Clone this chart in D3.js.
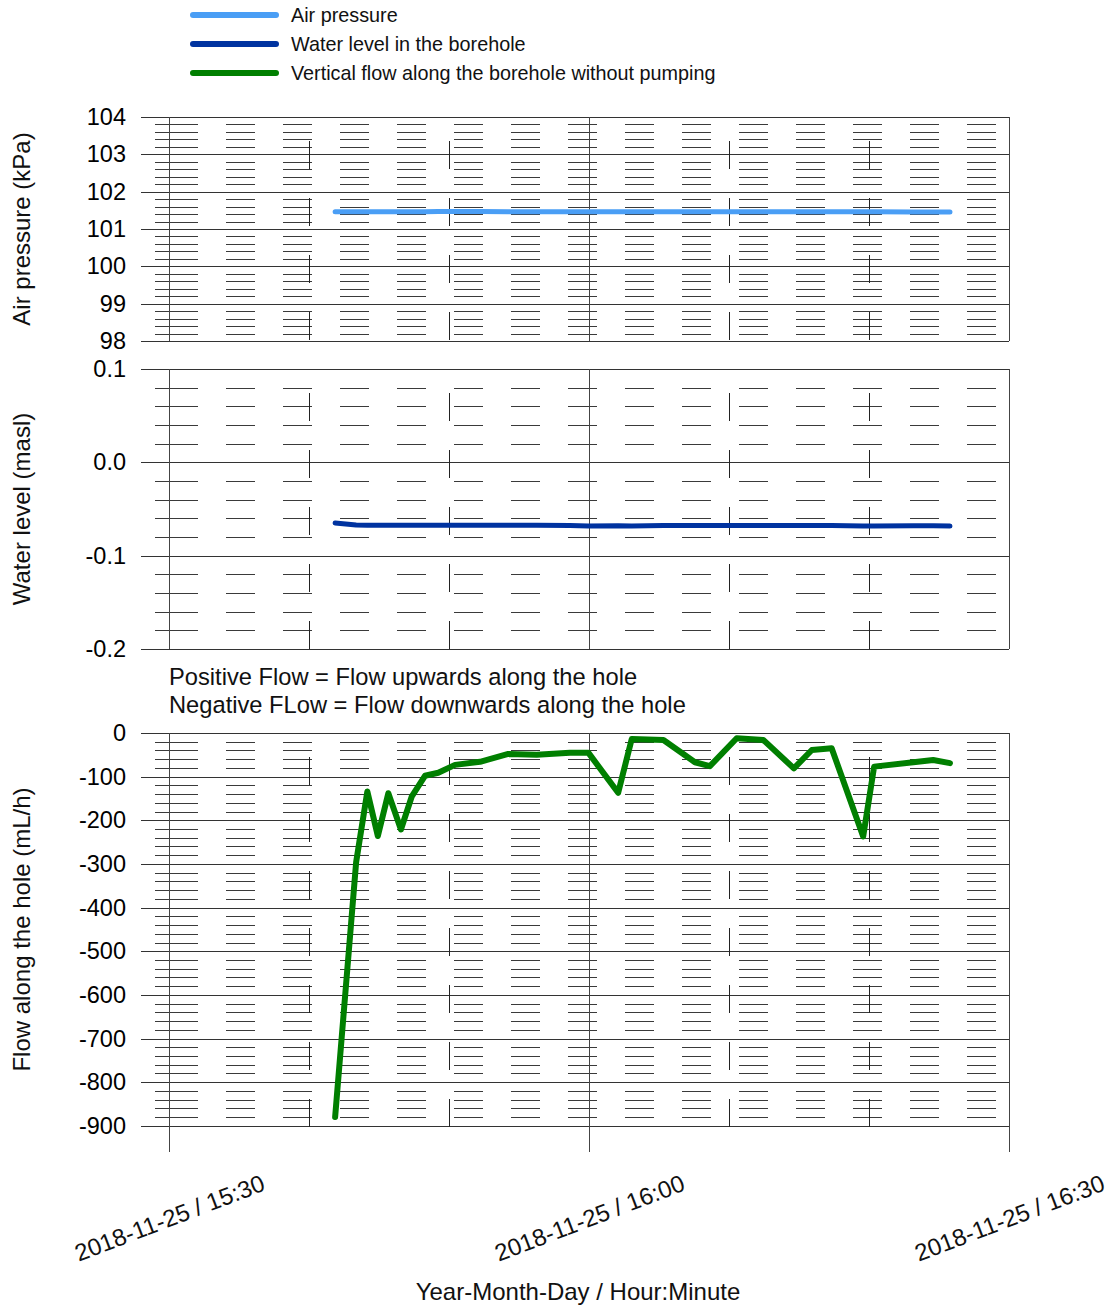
<!DOCTYPE html>
<html>
<head>
<meta charset="utf-8">
<script src="https://cdn.jsdelivr.net/npm/d3@7"></script>
<style>
  body { margin: 0; background: #fff; }
  svg { display: block; font-family: "Liberation Sans", Arial, sans-serif; }
</style>
</head>
<body>
<svg id="chart" width="1113" height="1309"></svg>
<script>
// datos (hora de la medicion)
var times = ["15:41:52","15:43:22","15:44:10","15:44:55","15:45:40","15:46:34","15:47:20","15:48:17",
  "15:49:14","15:50:26","15:52:13","15:54:14","15:56:16","15:58:38","15:59:57","16:02:05","16:03:03",
  "16:05:19","16:07:34","16:08:38","16:10:33","16:12:27","16:14:38","16:15:55","16:17:20","16:19:35",
  "16:20:22","16:23:10","16:24:35","16:25:47"];
var airPressure = [101.46,101.46,101.46,101.46,101.46,101.46,101.46,101.46,101.47,101.47,101.47,101.46,
  101.46,101.46,101.46,101.46,101.46,101.46,101.46,101.46,101.46,101.46,101.46,101.46,101.46,101.46,
  101.46,101.455,101.455,101.455];
var waterLevel = [-0.065,-0.0672,-0.0674,-0.0675,-0.0675,-0.0675,-0.0675,-0.0675,-0.0675,-0.0675,-0.0675,
  -0.0675,-0.0675,-0.0676,-0.0682,-0.0680,-0.0683,-0.0677,-0.0676,-0.0676,-0.0676,-0.0676,-0.0676,-0.0677,
  -0.0678,-0.0683,-0.0682,-0.0680,-0.0679,-0.0683];
var flow = [-880,-296,-134,-236,-138,-221,-146,-98,-91,-73,-66,-48,-50,-45,-45,-137,-14,-16,-67,-76,
  -12,-16,-81,-39,-35,-237,-77,-67,-62,-69];

var legendLabels = ["Air pressure","Water level in the borehole","Vertical flow along the borehole without pumping"];
var seriesColors = ["#4a9ef5","#0033a0","#007f00"];
var pressureTicks = [98,99,100,101,102,103,104];
var levelTicks = [-0.2,-0.1,0.0,0.1];
var flowTicks = [0,-100,-200,-300,-400,-500,-600,-700,-800,-900];
var xTickLabels = ["15:30","16:00","16:30"];
var xMinorTimes = ["15:40","15:50","16:10","16:20"];
var fecha = "2018-11-25";

var parse = d3.timeParse("%Y-%m-%d %H:%M:%S");
var pt = function(h){ return parse(fecha + " " + (h.length == 5 ? h + ":00" : h)); };

var svg = d3.select("#chart");
var left = 141, right = 1009;

var x = d3.scaleTime()
  .domain([pt("15:28"), pt("16:30")])
  .range([left, right]);

var paneles = [
  { top: 117, bottom: 341, gridBottom: 341, y: d3.scaleLinear().domain([98,104]).range([341,117]),
    ticks: pressureTicks, minorStep: 0.2, fmt: function(d){ return String(d); },
    title: "Air pressure (kPa)", values: airPressure, color: seriesColors[0], width: 5 },
  { top: 369, bottom: 649, gridBottom: 649, y: d3.scaleLinear().domain([-0.2,0.1]).range([649,369]),
    ticks: levelTicks, minorStep: 0.02, fmt: function(d){ return d.toFixed(1); },
    title: "Water level (masl)", values: waterLevel, color: seriesColors[1], width: 5 },
  { top: 733, bottom: 1126, gridBottom: 1152, y: d3.scaleLinear().domain([-960,0]).range([1152,733]),
    ticks: flowTicks, minorStep: 20, fmt: function(d){ return String(d); },
    title: "Flow along the hole (mL/h)", values: flow, color: seriesColors[2], width: 6 }
];

var x0 = x(pt("15:30"));
var periodo = 57, guion = 29;

paneles.forEach(function(p){
  var g = svg.append("g");
  var grid = g.append("g").attr("shape-rendering","crispEdges");

  // lineas menores horizontales (cortas)
  var lo = d3.min(p.ticks), hi = d3.max(p.ticks);
  var n = Math.round((hi - lo) / p.minorStep);
  var minors = d3.range(n + 1).map(function(i){ return lo + i * p.minorStep; })
    .filter(function(v, i){ return i % 5 != 0; });
  minors.forEach(function(v){
    var yy = Math.round(p.y(v)) + 0.5;
    grid.append("line")
      .attr("x1", x(pt("15:29"))).attr("x2", x0 + guion)
      .attr("y1", yy).attr("y2", yy)
      .attr("stroke", "#3a3a3a").attr("stroke-width", 1);
    grid.append("line")
      .attr("x1", x0 + periodo).attr("x2", right)
      .attr("y1", yy).attr("y2", yy)
      .attr("stroke", "#3a3a3a").attr("stroke-width", 1)
      .attr("stroke-dasharray", guion + "," + (periodo - guion));
  });

  // lineas mayores horizontales
  p.ticks.forEach(function(v){
    var yy = Math.round(p.y(v)) + 0.5;
    grid.append("line")
      .attr("x1", left).attr("x2", right)
      .attr("y1", yy).attr("y2", yy)
      .attr("stroke", "#333").attr("stroke-width", 1.2);
  });

  // verticales punteadas cada 10 minutos
  xMinorTimes.forEach(function(t){
    var xx = Math.round(x(pt(t))) + 0.5;
    grid.append("line")
      .attr("x1", xx).attr("x2", xx)
      .attr("y1", p.top).attr("y2", p.gridBottom)
      .attr("stroke", "#222").attr("stroke-width", 1)
      .attr("stroke-dasharray", "28,29")
      .attr("stroke-dashoffset", 33);
  });

  // verticales solidas cada 30 minutos
  xTickLabels.forEach(function(t){
    var xx = Math.round(x(pt(t))) + 0.5;
    grid.append("line")
      .attr("x1", xx).attr("x2", xx)
      .attr("y1", p.top).attr("y2", p.gridBottom)
      .attr("stroke", "#444").attr("stroke-width", 1.3);
  });

  // eje y
  var ax = g.append("g")
    .attr("transform", "translate(" + left + ",0)")
    .call(d3.axisLeft(p.y).tickValues(p.ticks).tickSize(0).tickPadding(15).tickFormat(p.fmt));
  ax.select(".domain").remove();
  ax.selectAll("text")
    .attr("font-size", "23.5px")
    .attr("font-family", "'Liberation Sans', Arial, sans-serif")
    .attr("fill", "#000");

  // titulo del eje
  g.append("text")
    .attr("transform", "translate(30," + ((p.top + p.bottom) / 2) + ") rotate(-90)")
    .attr("text-anchor", "middle")
    .attr("font-size", "24px")
    .attr("fill", "#111")
    .text(p.title);

  // serie
  var linea = d3.line()
    .x(function(d, i){ return x(pt(times[i])); })
    .y(function(d){ return p.y(d); });
  g.append("path")
    .datum(p.values)
    .attr("d", linea)
    .attr("fill", "none")
    .attr("stroke", p.color)
    .attr("stroke-width", p.width)
    .attr("stroke-linejoin", "round")
    .attr("stroke-linecap", "round");
});

// eje x (etiquetas inclinadas)
var axX = svg.append("g")
  .attr("transform", "translate(0,1218)")
  .call(d3.axisBottom(x)
    .tickValues(xTickLabels.map(pt))
    .tickSize(0)
    .tickFormat(function(d){ return fecha + " / " + d3.timeFormat("%H:%M")(d); }));
axX.select(".domain").remove();
axX.selectAll("text")
  .attr("y", 0).attr("dy", "0.35em")
  .attr("text-anchor", "middle")
  .attr("transform", "rotate(-21)")
  .attr("font-size", "24px")
  .attr("font-family", "'Liberation Sans', Arial, sans-serif")
  .attr("fill", "#111");

svg.append("text")
  .attr("x", (left + right) / 2 + 3).attr("y", 1300)
  .attr("text-anchor", "middle")
  .attr("font-size", "24px")
  .attr("fill", "#111")
  .text("Year-Month-Day / Hour:Minute");

// notas de flujo
svg.append("text").attr("x", 169).attr("y", 685)
  .attr("font-size", "23.7px").attr("fill", "#111")
  .text("Positive Flow = Flow upwards along the hole");
svg.append("text").attr("x", 169).attr("y", 713)
  .attr("font-size", "23.7px").attr("fill", "#111")
  .text("Negative FLow = Flow downwards along the hole");

// leyenda
var legend = svg.append("g").attr("class", "legend");
legendLabels.forEach(function(l, i){
  var yy = 15 + i * 29;
  legend.append("line")
    .attr("x1", 193).attr("x2", 276)
    .attr("y1", yy).attr("y2", yy)
    .attr("stroke", seriesColors[i])
    .attr("stroke-width", 6)
    .attr("stroke-linecap", "round");
  legend.append("text")
    .attr("x", 291).attr("y", yy + 7)
    .attr("font-size", "19.8px")
    .attr("fill", "#111")
    .text(l);
});
</script>
</body>
</html>
